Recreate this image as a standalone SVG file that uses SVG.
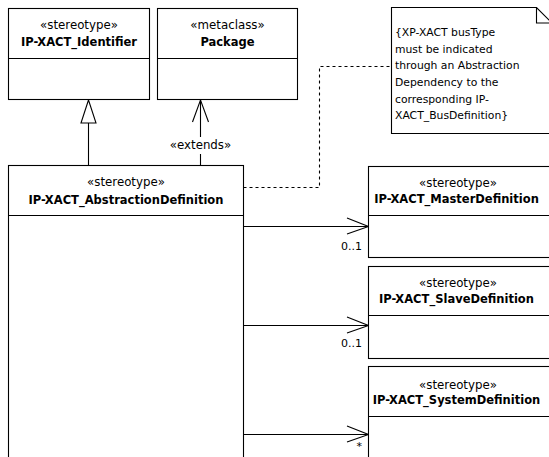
<svg xmlns="http://www.w3.org/2000/svg" width="549" height="457" viewBox="0 0 549 457">
  <style>
    .box { fill: #fff; stroke: #000; stroke-width: 1.1; }
    .line { fill: none; stroke: #000; stroke-width: 1.1; }
    .dash { fill: none; stroke: #000; stroke-width: 1.1; stroke-dasharray: 3 3; }
    text { font-family: "DejaVu Sans", Verdana, sans-serif; font-size: 11.5px; fill: #000; }
    .st { text-anchor: middle; font-size: 11.8px; }
    .nm { text-anchor: middle; font-weight: bold; font-size: 11.5px; }
    .note { font-size: 10.8px; }
    .mult { font-size: 11px; text-anchor: end; }
  </style>
  <rect width="549" height="457" fill="#fff"/>

  <!-- connectors -->
  <g id="connectors">
    <!-- generalization to IP-XACT_Identifier -->
    <line class="line" x1="88.5" y1="123" x2="88.5" y2="165.5"/>
    <polygon class="box" points="88.5,100 81,123 96,123"/>
    <!-- extends to Package -->
    <line class="line" x1="200.5" y1="100" x2="200.5" y2="137"/>
    <line class="line" x1="200.5" y1="154" x2="200.5" y2="165.5"/>
    <polyline class="line" points="192.5,122 200.5,100 208.5,122"/>
    <text class="st" x="200.5" y="149">«extends»</text>
    <!-- note anchor -->
    <polyline class="dash" points="243.5,187.5 319.5,187.5 319.5,66.5 391.5,66.5"/>
    <!-- associations -->
    <line class="line" x1="243.5" y1="226.5" x2="368.5" y2="226.5"/>
    <polyline class="line" points="347,218 368.5,226.5 347,234"/>
    <text class="mult" x="362" y="250">0..1</text>
    <line class="line" x1="243.5" y1="325.5" x2="368.5" y2="325.5"/>
    <polyline class="line" points="347,317 368.5,325.5 347,333"/>
    <text class="mult" x="362" y="347">0..1</text>
    <line class="line" x1="243.5" y1="434.5" x2="368.5" y2="434.5"/>
    <polyline class="line" points="347,426 368.5,434.5 347,442"/>
    <text class="mult" x="362" y="450">*</text>
  </g>

  <g id="identifier">
    <rect class="box" x="8.5" y="8.5" width="141" height="91"/>
    <line class="line" x1="8.5" y1="58.5" x2="149.5" y2="58.5"/>
    <text class="st" x="79" y="29">«stereotype»</text>
    <text class="nm" x="79" y="46">IP-XACT_Identifier</text>
  </g>

  <g id="package">
    <rect class="box" x="157.5" y="8.5" width="140" height="91"/>
    <line class="line" x1="157.5" y1="58.5" x2="297.5" y2="58.5"/>
    <text class="st" x="227.5" y="29">«metaclass»</text>
    <text class="nm" x="227.5" y="46">Package</text>
  </g>

  <g id="note">
    <polygon class="box" points="391.5,7.5 536.5,7.5 552,23 552,133.5 391.5,133.5"/>
    <polyline class="line" points="536.5,7.5 536.5,23 552,23"/>
    <text class="note" x="395" y="36">{XP-XACT busType</text>
    <text class="note" x="395" y="52.5">must be indicated</text>
    <text class="note" x="395" y="69">through an Abstraction</text>
    <text class="note" x="395" y="86">Dependency to the</text>
    <text class="note" x="395" y="102.5">corresponding IP-</text>
    <text class="note" x="395" y="119">XACT_BusDefinition}</text>
  </g>

  <g id="abstraction">
    <rect class="box" x="8.5" y="165.5" width="235" height="300"/>
    <line class="line" x1="8.5" y1="215.5" x2="243.5" y2="215.5"/>
    <text class="st" x="126" y="186">«stereotype»</text>
    <text class="nm" x="126" y="204">IP-XACT_AbstractionDefinition</text>
  </g>

  <g id="master">
    <rect class="box" x="368.5" y="166.5" width="200" height="91"/>
    <line class="line" x1="368.5" y1="215.5" x2="568.5" y2="215.5"/>
    <text class="st" x="458" y="187">«stereotype»</text>
    <text class="nm" x="456.5" y="203">IP-XACT_MasterDefinition</text>
  </g>

  <g id="slave">
    <rect class="box" x="368.5" y="266.5" width="200" height="92"/>
    <line class="line" x1="368.5" y1="315.5" x2="568.5" y2="315.5"/>
    <text class="st" x="458" y="287">«stereotype»</text>
    <text class="nm" x="456.5" y="303">IP-XACT_SlaveDefinition</text>
  </g>

  <g id="system">
    <rect class="box" x="368.5" y="366.5" width="200" height="100"/>
    <line class="line" x1="368.5" y1="416.5" x2="568.5" y2="416.5"/>
    <text class="st" x="458" y="389">«stereotype»</text>
    <text class="nm" x="456.5" y="404">IP-XACT_SystemDefinition</text>
  </g>
</svg>
